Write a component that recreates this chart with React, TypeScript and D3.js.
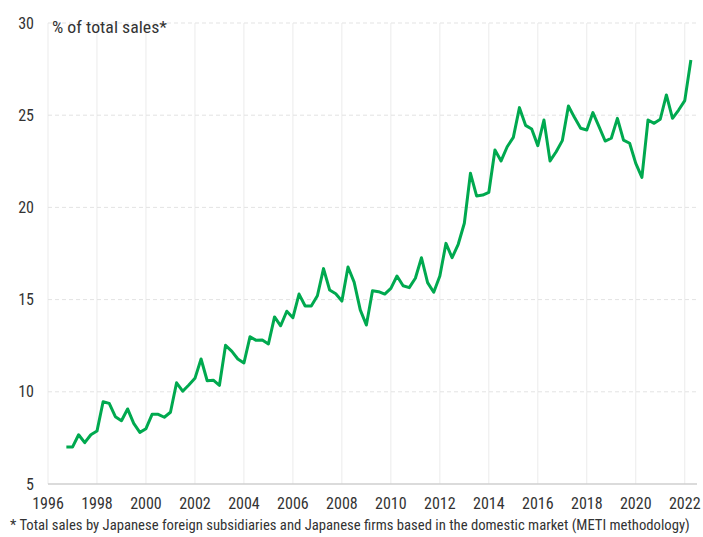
import React from 'react';
import * as d3 from 'd3';

// quarterly series, first point = 1996 Q4
const startYear = 1996;
const startQuarter = 4;
const shareOfSales = [
  7.0, 7.0, 7.67, 7.24, 7.67, 7.87, 9.46, 9.37, 8.65, 8.43,
  9.07, 8.29, 7.8, 8.0, 8.78, 8.78, 8.62, 8.89, 10.49, 10.03,
  10.37, 10.73, 11.78, 10.6, 10.63, 10.35, 12.52, 12.21, 11.78, 11.56,
  12.99, 12.79, 12.81, 12.59, 14.06, 13.58, 14.37, 14.02, 15.3, 14.65,
  14.65, 15.21, 16.68, 15.52, 15.32, 14.92, 16.77, 15.95, 14.44, 13.62,
  15.48, 15.43, 15.3, 15.61, 16.28, 15.75, 15.65, 16.16, 17.27, 15.92,
  15.4, 16.28, 18.05, 17.27, 18.0, 19.14, 21.85, 20.62, 20.67, 20.82,
  23.11, 22.52, 23.29, 23.8, 25.41, 24.45, 24.25, 23.35, 24.74, 22.52,
  23.02, 23.62, 25.5, 24.87, 24.29, 24.2, 25.14, 24.38, 23.6, 23.75,
  24.83, 23.65, 23.48, 22.39, 21.63, 24.74, 24.56, 24.78, 26.1, 24.83,
  25.28, 25.79, 27.99,
];
const xTicks = [1996, 1998, 2000, 2002, 2004, 2006, 2008, 2010, 2012, 2014, 2016, 2018, 2020, 2022];
const yTicks = [5, 10, 15, 20, 25, 30];
const yLabel = '% of total sales*';
const footnote = '* Total sales by Japanese foreign subsidiaries and Japanese firms based in the domestic market (METI methodology)';

const W = 703;
const H = 537;
const font = '"Roboto Condensed", Roboto, sans-serif';

export default function App() {
  const x = d3.scaleLinear().domain([1996, 2022.5]).range([48, 697]);
  const y = d3.scaleLinear().domain([5, 30]).range([484, 23]);

  const points = shareOfSales.map((v, i) => ({
    t: startYear + (startQuarter - 1) / 4 + i * 0.25,
    v,
  }));
  const line = d3.line<{ t: number; v: number }>().x(d => x(d.t)).y(d => y(d.v));

  return (
    <svg width={W} height={H} style={{ position: 'absolute', left: 0, top: 0, fontFamily: font }}>
      <rect width={W} height={H} fill="#fff" />
      {xTicks.map(t => (
        <line key={'vx' + t} x1={x(t)} x2={x(t)} y1={y(30)} y2={y(5)} stroke="#ebebeb" strokeWidth={1} />
      ))}
      {yTicks.filter(t => t > 5).map(t => (
        <line key={'hy' + t} x1={x(1996)} x2={x(2022.5)} y1={y(t)} y2={y(t)} stroke="#e3e3e3" strokeDasharray="4,3" strokeWidth={1} />
      ))}
      <line x1={x(1996)} x2={x(2022.5)} y1={y(5)} y2={y(5)} stroke="#cfcfcf" strokeWidth={1.5} />
      {yTicks.map(t => (
        <text key={'yl' + t} x={34} y={y(t)} dy="0.35em" textAnchor="end" fontSize={16} fill="#333">{t}</text>
      ))}
      {xTicks.map(t => (
        <text key={'xl' + t} x={x(t)} y={503} dy="0.35em" textAnchor="middle" fontSize={16} fill="#333">{t}</text>
      ))}
      <text x={52} y={27} dy="0.35em" fontSize={16.5} textLength={115} lengthAdjust="spacingAndGlyphs" fill="#333">{yLabel}</text>
      <path d={line(points) || ''} fill="none" stroke="#00a94f" strokeWidth={3} strokeLinejoin="round" />
      <text x={10} y={525} dy="0.35em" fontSize={14.7} fill="#333">{footnote}</text>
    </svg>
  );
}
